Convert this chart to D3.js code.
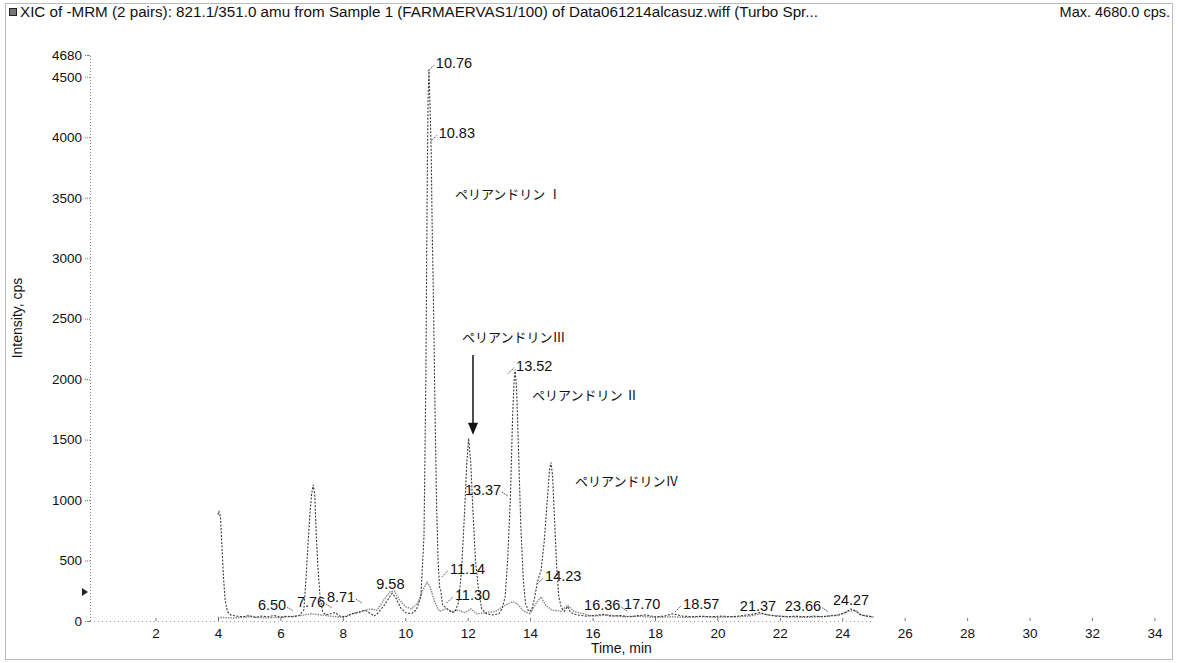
<!DOCTYPE html>
<html><head><meta charset="utf-8">
<script src="https://cdn.jsdelivr.net/npm/d3@7"></script>
<style>
html,body{margin:0;padding:0;background:#fff;}
text{font-family:"Liberation Sans",Arial,sans-serif;fill:#111;}
.jp{font-family:"Noto Sans CJK JP",sans-serif;}
</style></head>
<body><svg id="c" width="1178" height="663"></svg>
<script>
// ---- data ----
const titleText = "XIC of -MRM (2 pairs): 821.1/351.0 amu from Sample 1 (FARMAERVAS1/100) of Data061214alcasuz.wiff (Turbo Spr...";
const maxText = "Max. 4680.0 cps.";
const yTickValues = [0, 500, 1000, 1500, 2000, 2500, 3000, 3500, 4000, 4500, 4680];
const xTickValues = [2, 4, 6, 8, 10, 12, 14, 16, 18, 20, 22, 24, 26, 28, 30, 32, 34];

const mainTime = [4.00,4.03,4.08,4.13,4.18,4.23,4.30,4.40,4.6,4.8,5.0,5.2,5.4,5.6,5.8,6.0,6.2,6.4,6.6,6.75,6.82,6.90,6.95,7.00,7.05,7.10,7.15,7.20,7.27,7.35,7.45,7.6,7.76,7.9,8.1,8.3,8.5,8.71,8.9,9.0,9.1,9.3,9.45,9.58,9.7,9.85,10.0,10.2,10.35,10.5,10.6,10.66,10.70,10.73,10.76,10.80,10.83,10.86,10.9,10.95,11.0,11.05,11.10,11.14,11.2,11.30,11.4,11.5,11.6,11.7,11.8,11.9,11.97,12.03,12.1,12.17,12.25,12.35,12.45,12.6,12.8,13.0,13.1,13.2,13.28,13.37,13.44,13.49,13.52,13.57,13.63,13.7,13.78,13.85,13.95,14.05,14.15,14.23,14.35,14.45,14.55,14.62,14.67,14.72,14.78,14.85,14.92,15.0,15.1,15.2,15.3,15.5,15.8,16.0,16.36,16.6,16.9,17.2,17.5,17.7,18.0,18.3,18.57,18.9,19.2,19.5,19.8,20.1,20.5,20.8,21.1,21.37,21.6,21.9,22.2,22.5,22.8,23.1,23.4,23.66,23.9,24.1,24.27,24.45,24.6,24.8,25.0];
const mainIntensity = [880,910,860,600,350,170,80,50,40,35,45,30,40,35,45,30,40,35,45,90,350,700,900,1050,1125,1050,700,450,200,80,50,60,70,40,35,60,70,90,60,40,60,120,180,230,190,110,70,60,90,200,700,2000,3500,4300,4560,4200,3900,3300,2700,1800,1000,500,280,250,130,110,90,70,80,150,400,900,1300,1510,1300,900,500,250,100,60,50,60,100,200,500,1030,1700,2000,2080,1900,1400,800,350,150,80,90,200,320,420,650,1000,1250,1310,1200,850,450,200,110,80,120,70,50,40,45,55,40,45,35,45,50,35,40,60,40,35,40,35,40,35,45,55,70,50,40,35,40,35,40,35,45,50,70,100,80,50,40,35];

const lowTime = [4.0,4.5,5.0,5.5,6.0,6.5,7.0,7.3,7.6,8.0,8.3,8.6,8.9,9.1,9.3,9.5,9.65,9.8,10.0,10.2,10.4,10.55,10.7,10.8,10.95,11.1,11.3,11.5,11.7,11.9,12.1,12.3,12.6,12.9,13.2,13.45,13.6,13.8,14.0,14.2,14.35,14.5,14.7,15.0,15.2,15.4,15.7,16.0,16.5,17.0,17.5,18.0,18.5,19.0,19.5,20.0,20.5,21.0,21.4,21.8,22.3,22.8,23.3,23.8,24.2,24.4,24.6,25.0];
const lowIntensity = [30,25,35,25,30,40,60,50,40,30,60,80,100,90,170,240,250,180,120,100,150,250,320,280,150,80,100,80,90,70,100,60,70,80,130,160,140,80,60,150,200,130,90,80,130,80,60,40,50,35,40,30,35,30,35,30,35,40,60,45,35,30,35,45,80,90,50,30];

// peak labels: text, anchor time, anchor intensity (where label sits)
const peakLabelText = ["10.76","10.83","11.14","11.30","13.37","13.52","14.23","9.58","8.71","7.76","6.50","16.36","17.70","18.57","21.37","23.66","24.27"];
const peakLabelTime = [10.98,11.07,11.43,11.59,11.91,13.55,14.48,9.07,7.49,6.53,5.28,15.73,17.01,18.90,20.72,22.16,23.70];
const peakLabelLevel = [4570,3990,390,175,1040,2070,330,265,155,115,90,90,100,100,85,85,130];
const leaderSide = ["L","L","L","L","R","L","L","N","R","R","R","R","N","L","N","R","N"];

const compoundNames = ["ペリアンドリン Ⅰ","ペリアンドリンⅢ","ペリアンドリン Ⅱ","ペリアンドリンⅣ"];
const compoundTime = [11.59,11.82,14.06,15.44];
const compoundLevel = [3490,2310,1830,1120];

// ---- drawing ----
const svg = d3.select("#c");
svg.append("rect").attr("width",1178).attr("height",663).attr("fill","#fff");
svg.append("rect").attr("x",5.5).attr("y",3.5).attr("width",1167).attr("height",656)
  .attr("fill","none").attr("stroke","#777").attr("stroke-dasharray","1,1");

const x = d3.scaleLinear().domain([-0.1, 34.5]).range([90, 1170]);
const y = d3.scaleLinear().domain([0, 4680]).range([621, 55]);

// title
svg.append("rect").attr("x",9.5).attr("y",8.5).attr("width",7).attr("height",7)
  .attr("fill","#777").attr("stroke","#222").attr("stroke-width",1);
svg.append("text").attr("x",20).attr("y",17).attr("font-size",15.2).text(titleText);
svg.append("text").attr("x",1170).attr("y",17).attr("font-size",14.5).attr("text-anchor","end").text(maxText);

// y axis
const yAxis = d3.axisLeft(y).tickValues(yTickValues).tickSize(5).tickPadding(3).tickFormat(d3.format("d"));
const gy = svg.append("g").attr("transform","translate(90,0)").call(yAxis);
gy.select(".domain").attr("stroke","#888").attr("stroke-dasharray","1,2");
gy.selectAll(".tick line").attr("stroke","#777").attr("stroke-dasharray","1,1");
gy.selectAll(".tick text").attr("font-size",13.5).attr("fill","#111").attr("font-family","Liberation Sans,Arial,sans-serif");

// x axis
const xAxis = d3.axisBottom(x).tickValues(xTickValues).tickSize(-3).tickPadding(7).tickFormat(d3.format("d"));
const gx = svg.append("g").attr("transform","translate(0,621)").call(xAxis);
gx.select(".domain").remove();
gx.selectAll(".tick line").attr("stroke","#777");
gx.selectAll(".tick text").attr("font-size",13.5).attr("fill","#111").attr("font-family","Liberation Sans,Arial,sans-serif");
// dotted baseline
svg.append("line").attr("x1",x(-0.1)).attr("x2",x(25)).attr("y1",y(0)+0.5).attr("y2",y(0)+0.5)
  .attr("stroke","#999").attr("stroke-dasharray","1,3");

// axis titles
svg.append("text").attr("transform","translate(22,318) rotate(-90)").attr("text-anchor","middle")
  .attr("font-size",14).text("Intensity, cps");
svg.append("text").attr("x",x(15.95)).attr("y",653).attr("font-size",14).text("Time, min");

// marker at y axis
svg.append("path").attr("d","M82,588 L88,592 L82,596 Z").attr("fill","#222");

// traces
const line = d3.line().x(d=>x(d[0])).y(d=>y(d[1]));
svg.append("path").datum(lowTime.map((t,i)=>[t,lowIntensity[i]]))
  .attr("d",line).attr("fill","none").attr("stroke","#8a8a8a").attr("stroke-width",1.4).attr("stroke-dasharray","1.5,1");
svg.append("path").datum(mainTime.map((t,i)=>[t,mainIntensity[i]]))
  .attr("d",line).attr("fill","none").attr("stroke","#3a3a3a").attr("stroke-width",1.1).attr("stroke-dasharray","2,1.5");

// peak labels
const lbl = svg.append("g");
peakLabelText.forEach((s,i)=>{
  const tx = x(peakLabelTime[i]), ty = y(peakLabelLevel[i]);
  const t = lbl.append("text").attr("x",tx).attr("y",ty).attr("font-size",14.5).text(s);
  const w = t.node().getComputedTextLength();
  if(leaderSide[i]==="L"){
    lbl.append("path").attr("d",`M${tx-8},${ty+3} L${tx-2},${ty-3}`).attr("stroke","#444").attr("fill","none").attr("stroke-dasharray","1.5,1");
  } else if(leaderSide[i]==="R"){
    lbl.append("path").attr("d",`M${tx+w+1},${ty-3} L${tx+w+7},${ty+1}`).attr("stroke","#444").attr("fill","none").attr("stroke-dasharray","1.5,1");
  }
});

// compound names
compoundNames.forEach((s,i)=>{
  svg.append("text").attr("class","jp").attr("x",x(compoundTime[i])).attr("y",y(compoundLevel[i]))
    .attr("font-size",13).text(s);
});
// arrow to Periandrin III peak
const ax = x(12.17);
svg.append("line").attr("x1",ax).attr("x2",ax).attr("y1",y(2200)).attr("y2",y(1620)).attr("stroke","#111").attr("stroke-width",1.5);
svg.append("path").attr("d",`M${ax-5},${y(1640)} L${ax+5},${y(1640)} L${ax},${y(1540)} Z`).attr("fill","#111");
</script></body></html>
